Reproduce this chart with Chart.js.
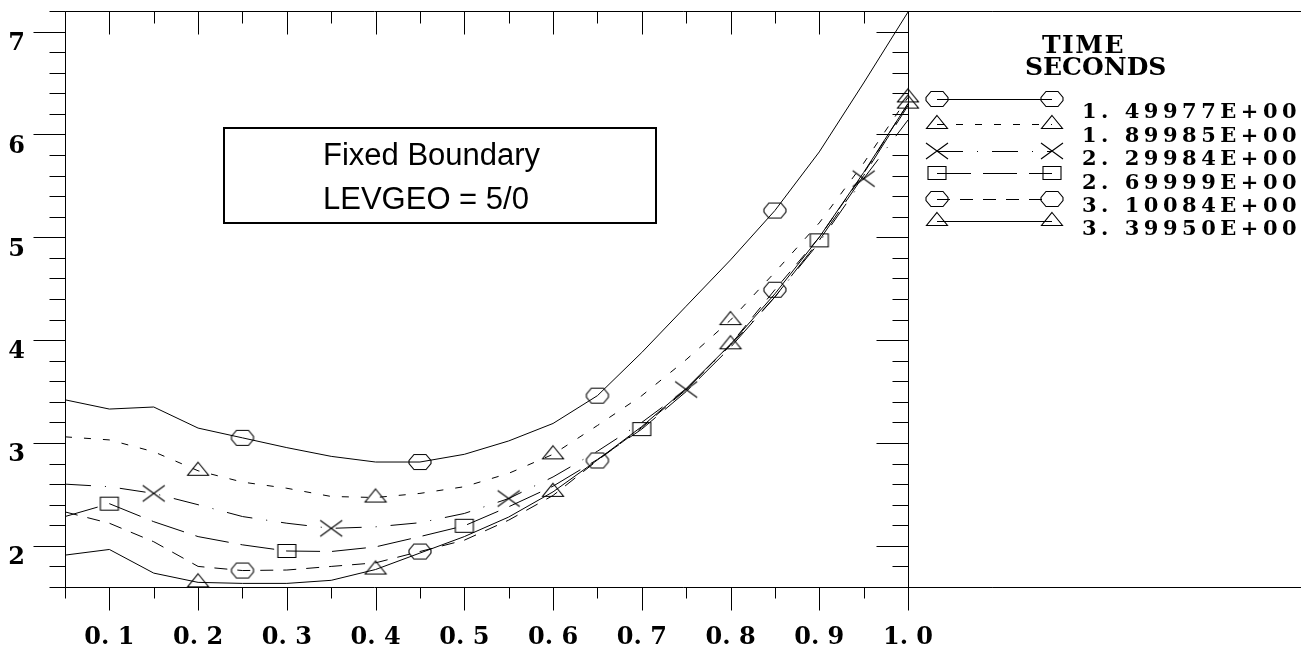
<!DOCTYPE html>
<html>
<head>
<meta charset="utf-8">
<script src="https://cdn.jsdelivr.net/npm/chart.js@4.4.1/dist/chart.umd.min.js"></script>
<style>
    html, body { margin: 0; padding: 0; background: #fff; }
    #profile-chart-content { position: relative; width: 1301px; height: 650px; }
</style>
</head>
<body>
<div id="profile-chart-content">
    <canvas id="profile-chart" width="1301" height="650"></canvas>
</div>
<script>
// radial grid, one value every 0.05
const rho = [0.05, 0.10, 0.15, 0.20, 0.25, 0.30, 0.35, 0.40, 0.45, 0.50,
             0.55, 0.60, 0.65, 0.70, 0.75, 0.80, 0.85, 0.90, 0.95, 1.00];

const timeLabels = ['1. 49977E+00', '1. 89985E+00', '2. 29984E+00',
                    '2. 69999E+00', '3. 10084E+00', '3. 39950E+00'];

const t1 = [3.42, 3.33, 3.35, 3.145, 3.05, 2.955, 2.87, 2.815, 2.815, 2.89,
            3.02, 3.19, 3.46, 3.88, 4.33, 4.78, 5.26, 5.83, 6.50, 7.19];
const t2 = [3.06, 3.03, 2.915, 2.73, 2.62, 2.56, 2.48, 2.47, 2.51, 2.575,
            2.705, 2.89, 3.17, 3.46, 3.81, 4.195, 4.66, 5.14, 5.72, 6.36];
const t3 = [2.60, 2.575, 2.51, 2.40, 2.285, 2.22, 2.17, 2.185, 2.225, 2.315,
            2.46, 2.67, 2.92, 3.20, 3.52, 3.95, 4.42, 4.95, 5.57, 6.14];
const t4 = [2.285, 2.41, 2.235, 2.09, 2.01, 1.95, 1.945, 1.99, 2.09, 2.195,
            2.38, 2.58, 2.84, 3.135, 3.50, 3.93, 4.42, 4.97, 5.60, 6.28];
const t5 = [2.33, 2.22, 2.04, 1.80, 1.76, 1.765, 1.80, 1.835, 1.945, 2.055,
            2.25, 2.49, 2.83, 3.15, 3.52, 3.96, 4.49, 5.00, 5.62, 6.30];
const t6 = [1.91, 1.965, 1.735, 1.645, 1.635, 1.635, 1.665, 1.77, 1.93, 2.09,
            2.28, 2.525, 2.835, 3.16, 3.53, 3.96, 4.45, 5.00, 5.63, 6.30];

const isWhole = v => Math.abs(v - Math.round(v)) < 1e-6;
const isTenth = v => Math.abs(v * 10 - Math.round(v * 10)) < 1e-6;

// hollow plot symbols, drawn once on small canvases
function symbol(kind) {
    var c = document.createElement('canvas');
    c.width = 28; c.height = 28;
    var g = c.getContext('2d');
    g.strokeStyle = '#000';
    g.lineWidth = 1.1;
    g.translate(14, 14);
    g.beginPath();
    if (kind === 'hex') {
        g.moveTo(-6, -7.5); g.lineTo(6, -7.5); g.lineTo(11, -1.5); g.lineTo(11, 1.5);
        g.lineTo(6, 7.5); g.lineTo(-6, 7.5); g.lineTo(-11, 1.5); g.lineTo(-11, -1.5);
        g.closePath();
    } else if (kind === 'tri') {
        g.moveTo(0, -8.5); g.lineTo(10.5, 4.5); g.lineTo(-10.5, 4.5);
        g.closePath();
    } else if (kind === 'cross') {
        g.moveTo(-11, -8); g.lineTo(11, 8);
        g.moveTo(-11, 8); g.lineTo(11, -8);
    } else {
        g.rect(-9, -6.5, 18, 13);
    }
    g.stroke();
    return c;
}

const series = [
    {data: t1, dash: [], sym: symbol('hex'), first: 0.25},
    {data: t2, dash: [7, 12], sym: symbol('tri'), first: 0.20},
    {data: t3, dash: [26, 14, 1, 14], sym: symbol('cross'), first: 0.15},
    {data: t4, dash: [34, 12], sym: symbol('rect'), first: 0.10},
    {data: t5, dash: [13, 10], sym: symbol('hex'), first: 0.25},
    {data: t6, dash: [], sym: symbol('tri'), first: 0.20}
];

// a symbol every fourth point, staggered per curve
function markerRadius(first) {
    return function (ctx) {
        var k = Math.round((rho[ctx.dataIndex] - first) / 0.05);
        return (k >= 0 && k % 4 === 0) ? 9 : 0;
    };
}

const datasets = series.map(function (s, i) {
    return {
        label: timeLabels[i],
        data: rho.map(function (r, j) { return {x: r, y: s.data[j]}; }),
        borderColor: '#000',
        borderWidth: 1,
        borderDash: s.dash,
        pointStyle: s.sym,
        pointRadius: markerRadius(s.first),
        pointHoverRadius: 0,
        tension: 0,
        fill: false,
        clip: false
    };
});

// axes frame and tick marks on all four sides
const framePlugin = {
    id: 'frame',
    afterDraw(chart) {
        var ctx = chart.ctx, a = chart.chartArea;
        var x = chart.scales.x, y = chart.scales.y;
        var L = Math.round(a.left) + .5, R = Math.round(a.right) + .5;
        var T = Math.round(a.top) + .5, B = Math.round(a.bottom) + .5;
        ctx.save();
        ctx.strokeStyle = '#000';
        ctx.lineWidth = 1;
        ctx.beginPath();
        ctx.moveTo(L, T); ctx.lineTo(chart.width, T);
        ctx.moveTo(L, T); ctx.lineTo(L, B);
        ctx.moveTo(R, T); ctx.lineTo(R, B);
        ctx.moveTo(L, B); ctx.lineTo(chart.width, B);
        y.ticks.forEach(function (t) {
            var py = Math.round(y.getPixelForValue(t.value)) + .5;
            var len = isWhole(t.value) ? 32 : 16;
            ctx.moveTo(L - len, py); ctx.lineTo(L, py);
            ctx.moveTo(R - len, py); ctx.lineTo(R, py);
        });
        x.ticks.forEach(function (t) {
            var px = Math.round(x.getPixelForValue(t.value)) + .5;
            var major = isTenth(t.value);
            ctx.moveTo(px, B); ctx.lineTo(px, B + (major ? 23 : 11));
            ctx.moveTo(px, T); ctx.lineTo(px, T + (major ? 23 : 12));
        });
        ctx.stroke();

        // case label box
        ctx.lineWidth = 2;
        ctx.strokeRect(224, 128, 432, 95);
        ctx.fillStyle = '#000';
        ctx.font = '31px "Liberation Sans", Arial, sans-serif';
        ctx.textBaseline = 'alphabetic';
        ctx.textAlign = 'left';
        ctx.fillText('Fixed Boundary', 323, 165);
        ctx.fillText('LEVGEO = 5/0', 323, 209);
        ctx.restore();
    }
};

// key on the right: line sample with symbols at both ends, then the time
const keyPlugin = {
    id: 'timeKey',
    afterDraw(chart) {
        var ctx = chart.ctx;
        var rows = [99, 124, 151, 173, 199, 221];
        var base = [118, 141.5, 165, 188.5, 212, 235];
        ctx.save();
        ctx.fillStyle = '#000';
        ctx.strokeStyle = '#000';
        ctx.textAlign = 'left';
        ctx.textBaseline = 'alphabetic';
        ctx.font = 'bold 25px "DejaVu Serif", serif';
        ctx.letterSpacing = '1.5px';
        ctx.fillText('TIME', 1042, 53);
        ctx.letterSpacing = '0px';
        ctx.fillText('SECONDS', 1025, 75);
        ctx.font = 'bold 21px "DejaVu Serif", serif';
        ctx.letterSpacing = '4.5px';
        chart.data.datasets.forEach(function (ds, i) {
            var yy = rows[i] + .5;
            ctx.lineWidth = 1;
            ctx.setLineDash(ds.borderDash);
            ctx.beginPath();
            ctx.moveTo(937, yy); ctx.lineTo(1052, yy);
            ctx.stroke();
            ctx.setLineDash([]);
            ctx.drawImage(ds.pointStyle, 937 - 14, rows[i] - 14);
            ctx.drawImage(ds.pointStyle, 1052 - 14, rows[i] - 14);
            ctx.fillText(ds.label, 1082, base[i]);
        });
        ctx.restore();
    }
};

const tickFont = {family: '"DejaVu Serif", serif', size: 24, weight: 'bold'};

const config = {
    type: 'line',
    data: {datasets: datasets},
    options: {
        responsive: false,
        animation: false,
        devicePixelRatio: 1,
        events: [],
        layout: {padding: {top: 11, right: 393, left: 0, bottom: 0}},
        plugins: {
            legend: {display: false},
            tooltip: {enabled: false}
        },
        scales: {
            x: {
                type: 'linear',
                min: 0.05,
                max: 1.0,
                grid: {display: false, drawTicks: false},
                border: {display: false},
                ticks: {
                    stepSize: 0.05,
                    autoSkip: false,
                    maxRotation: 0,
                    padding: 36,
                    color: '#000',
                    font: tickFont,
                    callback: function (v) {
                        return isTenth(v) ? v.toFixed(1).replace('.', '. ') : '';
                    }
                },
                afterFit: function (scale) {
                    scale.height = 63;
                    scale.paddingLeft = 0;
                    scale.paddingRight = 0;
                }
            },
            y: {
                type: 'linear',
                min: 1.6,
                max: 7.2,
                grid: {display: false, drawTicks: false},
                border: {display: false},
                ticks: {
                    stepSize: 0.2,
                    autoSkip: false,
                    padding: 40,
                    labelOffset: 12,
                    color: '#000',
                    font: tickFont,
                    callback: function (v) {
                        return isWhole(v) ? String(Math.round(v)) : '';
                    }
                },
                afterFit: function (scale) {
                    scale.width = 65;
                    scale.paddingTop = 0;
                    scale.paddingBottom = 0;
                }
            }
        }
    },
    plugins: [framePlugin, keyPlugin]
};

var ctx = document.getElementById('profile-chart').getContext('2d');
window.profileChart = new Chart(ctx, config);
</script>
</body>
</html>
